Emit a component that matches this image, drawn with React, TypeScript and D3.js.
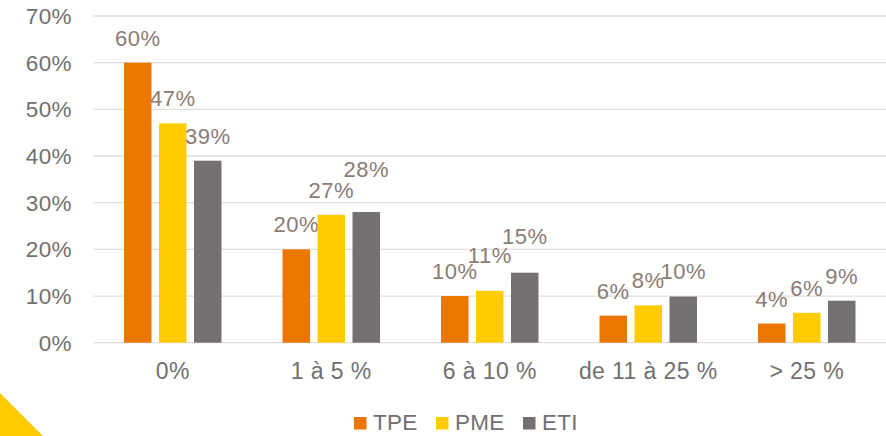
import React from 'react';
import * as d3 from 'd3';

const categories = ['0%', '1 à 5 %', '6 à 10 %', 'de 11 à 25 %', '> 25 %'];
const seriesNames = ['TPE', 'PME', 'ETI'];
const tpe = [0.60, 0.20, 0.10, 0.058, 0.041];
const pme = [0.47, 0.274, 0.111, 0.08, 0.064];
const eti = [0.39, 0.28, 0.15, 0.099, 0.09];
const yTicks = [0, 0.1, 0.2, 0.3, 0.4, 0.5, 0.6, 0.7];

const colors = ['#EC7700', '#FFCC00', '#767171'];
// extra lift (px) of a few data labels, moved by hand in the original to avoid collisions
const labelLift: Record<string, number> = { 'ETI-1': 18, 'PME-2': 11, 'ETI-2': 12 };

const W = 886;
const H = 436;
const FONT = '"Liberation Sans", Arial, sans-serif';
const AXIS_COLOR = '#707070';
const LABEL_COLOR = '#8C7B75';

const App: React.FC = () => {
  const values = [tpe, pme, eti];
  const x0 = d3.scaleBand<string>()
    .domain(categories)
    .range([93.5, 886])
    .paddingInner(0.385)
    .paddingOuter(0.1925);
  const x1 = d3.scaleBand<string>()
    .domain(seriesNames)
    .range([0, x0.bandwidth()])
    .paddingInner(0.214)
    .paddingOuter(0);
  const y = d3.scaleLinear().domain([0, 0.7]).range([342.7, 16]);
  const fmt = d3.format('.0%');

  const legendItems = [
    { name: 'TPE', x: 354, tx: 373 },
    { name: 'PME', x: 436, tx: 455 },
    { name: 'ETI', x: 523, tx: 542 },
  ];

  return (
    <svg width={W} height={H} style={{ position: 'fixed', left: 0, top: 0, background: '#fff' }}
      fontFamily={FONT}>
      <polygon points="0,393 43,436 0,436" fill="#FFCC00" />

      {/* grid + y axis */}
      {yTicks.map(t => (
        <g key={t}>
          <line x1={93.5} x2={W} y1={y(t)} y2={y(t)} stroke="#E2DEDE" strokeWidth={1.3} />
          <text x={72} y={y(t)} dy="0.36em" textAnchor="end" fontSize={22.5} letterSpacing={0.4} fill={AXIS_COLOR}>
            {fmt(t)}
          </text>
        </g>
      ))}

      {/* bars */}
      {categories.map((c, i) => (
        <g key={c} transform={`translate(${x0(c)},0)`}>
          {seriesNames.map((s, j) => {
            const v = values[j][i];
            const bx = x1(s)!;
            const lift = labelLift[`${s}-${i}`] || 0;
            return (
              <g key={s}>
                <rect x={bx} y={y(v)} width={x1.bandwidth()} height={y(0) - y(v)} fill={colors[j]} />
                <text x={bx + x1.bandwidth() / 2} y={y(v) - 17 - lift} textAnchor="middle"
                  fontSize={22} letterSpacing={0.5} fill={LABEL_COLOR}>
                  {fmt(v)}
                </text>
              </g>
            );
          })}
          <text x={x0.bandwidth() / 2} y={379} textAnchor="middle" fontSize={23} letterSpacing={0.4} fill={AXIS_COLOR}>
            {c}
          </text>
        </g>
      ))}

      {/* legend */}
      {legendItems.map((l, i) => (
        <g key={l.name}>
          <rect x={l.x} y={417} width={12.5} height={12.5} fill={colors[i]} />
          <text x={l.tx} y={430} fontSize={22.5} letterSpacing={0.3} fill={AXIS_COLOR}>{l.name}</text>
        </g>
      ))}
    </svg>
  );
};

export default App;
